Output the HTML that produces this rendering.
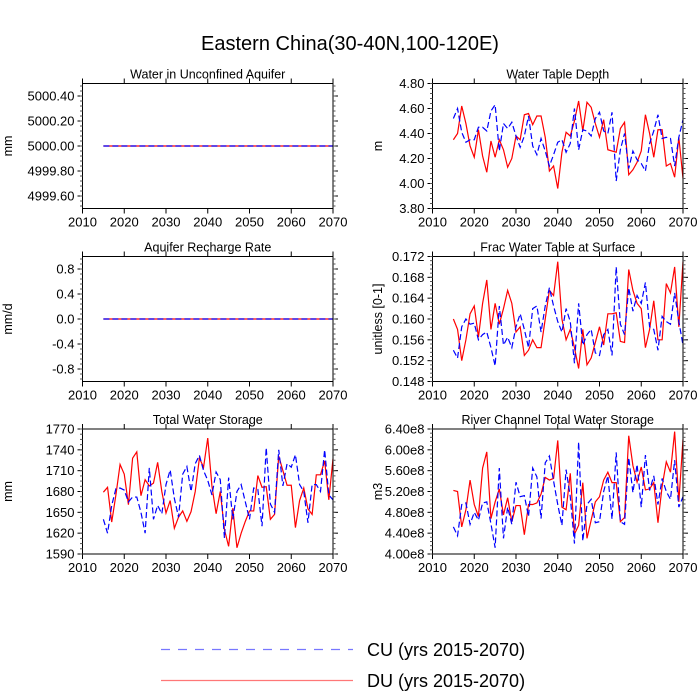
<!DOCTYPE html>
<html><head><meta charset="utf-8"><style>
body{margin:0;background:#fff}
svg{display:block;font-family:"Liberation Sans",Arial,sans-serif}
</style></head><body>
<svg id="chart" width="700" height="700" viewBox="0 0 700 700" xmlns="http://www.w3.org/2000/svg">
<rect width="700" height="700" fill="#fff"/>
<text x="350" y="50" font-size="20" text-anchor="middle">Eastern China(30-40N,100-120E)</text>
<g>
<line x1="161" y1="649.5" x2="353" y2="649.5" stroke="#7777ff" stroke-width="1.2" stroke-dasharray="9,8"/>
<text x="367" y="656" font-size="18">CU (yrs 2015-2070)</text>
<line x1="161" y1="680.5" x2="353" y2="680.5" stroke="#ff7777" stroke-width="1.2"/>
<text x="367" y="687" font-size="18">DU (yrs 2015-2070)</text>
</g>
</svg>
<script>
const years = []; for (let y = 2015; y <= 2070; y++) years.push(y);
const xTicks = [2010,2020,2030,2040,2050,2060,2070];

const wtdDU = [4.35,4.40,4.62,4.48,4.30,4.21,4.43,4.22,4.09,4.34,4.21,4.35,4.27,4.13,4.20,4.38,4.35,4.55,4.56,4.47,4.54,4.54,4.37,4.10,4.14,3.96,4.25,4.41,4.38,4.50,4.66,4.42,4.65,4.61,4.48,4.37,4.51,4.27,4.26,4.25,4.44,4.49,4.07,4.11,4.17,4.26,4.55,4.40,4.21,4.43,4.43,4.14,4.16,4.05,4.37,4.04];
const wtdCU = [4.52,4.60,4.41,4.33,4.35,4.35,4.45,4.45,4.42,4.58,4.63,4.26,4.48,4.44,4.49,4.38,4.29,4.38,4.54,4.30,4.23,4.36,4.26,4.14,4.23,4.33,4.35,4.25,4.32,4.60,4.27,4.43,4.42,4.38,4.52,4.57,4.42,4.40,4.57,4.02,4.27,4.40,4.12,4.26,4.19,4.16,4.10,4.32,4.42,4.55,4.36,4.37,4.36,4.14,4.37,4.51];
const fracDU = [0.160,0.158,0.152,0.156,0.161,0.1625,0.1565,0.163,0.1675,0.158,0.163,0.159,0.162,0.1655,0.163,0.1575,0.1585,0.153,0.154,0.156,0.1545,0.1545,0.160,0.1655,0.1645,0.171,0.160,0.156,0.158,0.1545,0.1505,0.158,0.1512,0.1525,0.1555,0.1585,0.155,0.161,0.161,0.1612,0.1557,0.1555,0.1695,0.1655,0.163,0.162,0.1545,0.158,0.1635,0.156,0.156,0.1668,0.165,0.170,0.1585,0.171];
const fracCU = [0.154,0.1525,0.1585,0.160,0.159,0.1592,0.156,0.157,0.1575,0.1545,0.151,0.1625,0.155,0.1565,0.1545,0.1585,0.161,0.158,0.1545,0.162,0.1625,0.1575,0.1625,0.166,0.1625,0.1595,0.1575,0.162,0.1595,0.1515,0.163,0.155,0.157,0.158,0.1535,0.153,0.157,0.158,0.153,0.170,0.159,0.157,0.166,0.1615,0.1645,0.163,0.167,0.1585,0.158,0.154,0.1605,0.1595,0.159,0.165,0.1595,0.155];
const rivDU = [5.22,5.20,4.52,4.85,5.42,4.95,4.72,5.65,5.96,4.68,5.00,5.25,4.75,5.08,4.62,4.93,4.93,4.37,4.95,4.95,4.98,5.15,5.47,5.42,5.45,6.18,4.90,4.85,5.55,4.38,4.55,5.37,4.30,4.65,5.00,5.10,5.42,5.57,5.37,5.37,4.62,4.70,6.27,5.70,5.38,5.67,5.23,5.25,5.37,4.60,5.30,5.77,5.57,6.35,5.00,6.20];
const rivCU = [4.52,4.35,4.95,4.98,4.57,4.80,4.65,4.98,5.00,4.58,4.12,5.65,4.30,4.90,4.57,5.38,5.10,5.12,4.72,5.65,5.48,4.68,5.75,5.88,5.40,4.95,4.55,5.62,5.10,4.20,6.15,4.25,4.95,5.05,4.60,4.62,5.20,5.50,4.67,5.95,4.62,4.57,5.85,5.18,5.72,4.90,5.90,5.22,5.50,4.95,5.45,5.20,5.05,5.80,4.90,5.10];
const twsDU = [1679,1686,1636,1675,1719,1705,1661,1728,1737,1674,1697,1688,1692,1722,1680,1649,1667,1627,1643,1652,1637,1651,1680,1728,1715,1757,1688,1648,1680,1625,1601,1656,1599,1620,1637,1652,1652,1703,1686,1687,1640,1647,1731,1710,1689,1689,1628,1667,1685,1655,1647,1704,1704,1724,1668,1727];
const twsCU = [1640,1620,1660,1684,1685,1682,1665,1672,1672,1650,1620,1714,1640,1660,1648,1690,1711,1670,1643,1705,1716,1680,1720,1732,1710,1696,1675,1708,1697,1613,1700,1640,1680,1690,1665,1640,1685,1683,1630,1743,1662,1650,1740,1688,1720,1715,1733,1690,1680,1635,1690,1690,1680,1740,1675,1668];
const aqDU = years.map(() => 5000.0);
const aqCU = years.map(() => 5000.0);
const rchDU = years.map(() => 0.0);
const rchCU = years.map(() => 0.0);

const aqTicks = [4999.6,4999.8,5000.0,5000.2,5000.4];
const rchTicks = [-0.8,-0.4,0.0,0.4,0.8];
const wtdTicks = [3.8,4.0,4.2,4.4,4.6,4.8];
const fracTicks = [0.148,0.152,0.156,0.160,0.164,0.168,0.172];
const rivTicks = [4.0,4.4,4.8,5.2,5.6,6.0,6.4];
const twsTicks = [1590,1620,1650,1680,1710,1740,1770];

const NS = "http://www.w3.org/2000/svg";
const svg = document.getElementById('chart');
function mk(tag, attrs, parent) {
  const e = document.createElementNS(NS, tag);
  for (const k in attrs) e.setAttribute(k, attrs[k]);
  (parent || svg).appendChild(e);
  return e;
}

const panels = [
  {name:'aquifer', title:'Water in Unconfined Aquifer', yl:'mm', x0:82.5, y0:83.5, ymin:4999.5, ymax:5000.5, ticks:aqTicks, fmt:v=>v.toFixed(2), du:aqDU, cu:aqCU, minorN:4},
  {name:'water-table-depth', title:'Water Table Depth', yl:'m', x0:432.5, y0:83.5, ymin:3.8, ymax:4.8, ticks:wtdTicks, fmt:v=>v.toFixed(2), du:wtdDU, cu:wtdCU, minorN:4},
  {name:'recharge', title:'Aquifer Recharge Rate', yl:'mm/d', x0:82.5, y0:256.5, ymin:-1, ymax:1, ticks:rchTicks, fmt:v=>v.toFixed(1), du:rchDU, cu:rchCU, minorN:4},
  {name:'frac-water-table', title:'Frac Water Table at Surface', yl:'unitless [0-1]', x0:432.5, y0:256.5, ymin:0.148, ymax:0.172, ticks:fracTicks, fmt:v=>v.toFixed(3), du:fracDU, cu:fracCU, minorN:4},
  {name:'total-water-storage', title:'Total Water Storage', yl:'mm', x0:82.5, y0:429, ymin:1590, ymax:1770, ticks:twsTicks, fmt:v=>v.toFixed(0), du:twsDU, cu:twsCU, minorN:3},
  {name:'river-storage', title:'River Channel Total Water Storage', yl:'m3', x0:432.5, y0:429, ymin:4.0, ymax:6.4, ticks:rivTicks, fmt:v=>v.toFixed(2)+'e8', du:rivDU, cu:rivCU, minorN:4},
];
const W = 250.5, H = 125;

panels.forEach(p => {
  const g = mk('g', {});
  
  
  const xs = v => p.x0 + (v - 2010) / 60 * W;
  const ys = v => p.y0 + H - (v - p.ymin) / (p.ymax - p.ymin) * H;
  const t = mk('text', {x: p.x0 + W/2, y: p.y0 - 5, 'font-size': 12.5, 'text-anchor': 'middle'}, g);
  t.textContent = p.title;
  
  
  // series
  const mkPath = (arr, color, dash, nm) => {
    const d = arr.map((v, i) => (i ? 'L' : 'M') + xs(years[i]).toFixed(2) + ',' + ys(v).toFixed(2)).join('');
    const pa = mk('path', {d: d, fill: 'none', stroke: color, 'stroke-width': 1.2}, g);
    if (dash) pa.setAttribute('stroke-dasharray', dash);
    
    
  };
  mkPath(p.du, '#ff0000', null, p.name + '-du-line');
  mkPath(p.cu, '#0000ff', '6,3', p.name + '-cu-line');
  // frame
  const fr = mk('rect', {x: p.x0, y: p.y0, width: W, height: H, fill: 'none', stroke: '#000', 'stroke-width': 1}, g);
  
  
  // x ticks
  xTicks.forEach((v, i) => {
    const x = xs(v);
    mk('line', {x1: x, y1: p.y0 + H, x2: x, y2: p.y0 + H + 5, stroke: '#000'}, g);
    mk('line', {x1: x, y1: p.y0, x2: x, y2: p.y0 - 5, stroke: '#000'}, g);
    const lb = mk('text', {x: x, y: p.y0 + H + 18, 'font-size': 13, 'text-anchor': 'middle'}, g);
    lb.textContent = v;
    
    
  });
  // y ticks
  const step = p.ticks[1] - p.ticks[0];
  p.ticks.forEach((v, i) => {
    const y = ys(v);
    mk('line', {x1: p.x0, y1: y, x2: p.x0 - 5, y2: y, stroke: '#000'}, g);
    mk('line', {x1: p.x0 + W, y1: y, x2: p.x0 + W + 5, y2: y, stroke: '#000'}, g);
    const lb = mk('text', {x: p.x0 - 8, y: y + 4.5, 'font-size': 13, 'text-anchor': 'end'}, g);
    lb.textContent = p.fmt(v);
    
    
  });
  // minor ticks
  const start = p.ticks[0] - step;
  for (let k = 0; k <= (p.ticks.length + 1) * (p.minorN + 1); k++) {
    const v = start + k * step / (p.minorN + 1);
    if (v < p.ymin - 1e-9 || v > p.ymax + 1e-9) continue;
    const y = ys(v);
    mk('line', {x1: p.x0, y1: y, x2: p.x0 - 2.5, y2: y, stroke: '#555'}, g);
    mk('line', {x1: p.x0 + W, y1: y, x2: p.x0 + W + 2.5, y2: y, stroke: '#555'}, g);
  }
  const ylx = p.x0 < 200 ? 12 : 382;
  const yt = mk('text', {x: ylx, y: p.y0 + H/2, 'font-size': 12.5, 'text-anchor': 'middle', transform: 'rotate(-90 ' + ylx + ' ' + (p.y0 + H/2) + ')'}, g);
  yt.textContent = p.yl;
  
  
});
</script>
</body></html>
